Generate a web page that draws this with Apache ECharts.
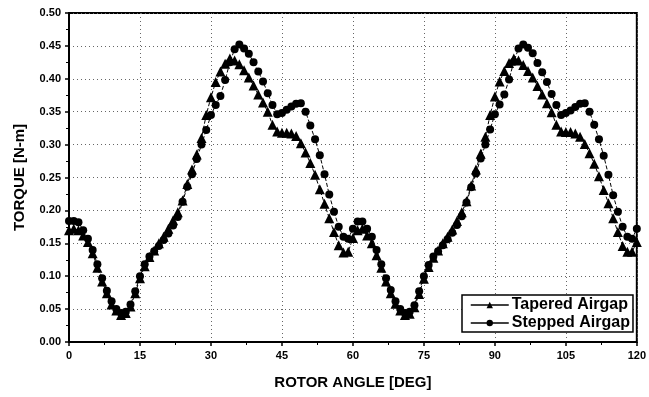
<!DOCTYPE html>
<html>
<head>
<meta charset="utf-8">
<script src="https://cdn.jsdelivr.net/npm/echarts@6/dist/echarts.min.js"></script>
<style>
html,body{margin:0;padding:0;background:#fff;}
#chart{width:649px;height:397px;}
</style>
</head>
<body>
<div id="chart"></div>
<script>
// rotor angle, 1 deg steps
var angles = [];
for (var a = 0; a <= 120; a++) angles.push(a);

// tapered airgap torque [N-m]
var tapered = [
  0.170, 0.172, 0.170, 0.162, 0.152, 0.135, 0.113, 0.092, 0.074, 0.057,
  0.048, 0.041, 0.044, 0.054, 0.074, 0.097, 0.115, 0.129, 0.139, 0.150,
  0.160, 0.172, 0.185, 0.197, 0.215, 0.240, 0.262, 0.285, 0.310, 0.345,
  0.372, 0.395, 0.411, 0.423, 0.431, 0.428, 0.422, 0.413, 0.402, 0.390,
  0.376, 0.364, 0.350, 0.330, 0.320, 0.318, 0.318, 0.317, 0.313, 0.302,
  0.288, 0.272, 0.254, 0.232, 0.210, 0.188, 0.167, 0.147, 0.136, 0.137,
  0.158, 0.170, 0.172, 0.162, 0.150, 0.132, 0.113, 0.092, 0.074, 0.058,
  0.048, 0.041, 0.043, 0.053, 0.073, 0.096, 0.114, 0.128, 0.139, 0.150,
  0.160, 0.171, 0.184, 0.197, 0.214, 0.238, 0.262, 0.286, 0.312, 0.345,
  0.373, 0.396, 0.412, 0.424, 0.431, 0.428, 0.421, 0.412, 0.402, 0.389,
  0.376, 0.363, 0.349, 0.330, 0.320, 0.319, 0.319, 0.317, 0.312, 0.301,
  0.287, 0.271, 0.252, 0.231, 0.211, 0.188, 0.167, 0.146, 0.137, 0.137,
  0.152
];

// stepped airgap torque [N-m]
var stepped = [
  0.184, 0.184, 0.182, 0.170, 0.157, 0.140, 0.118, 0.097, 0.078, 0.062,
  0.050, 0.044, 0.046, 0.057, 0.077, 0.100, 0.118, 0.130, 0.138, 0.146,
  0.155, 0.165, 0.177, 0.190, 0.213, 0.236, 0.255, 0.278, 0.300, 0.322,
  0.345, 0.360, 0.374, 0.398, 0.425, 0.445, 0.452, 0.446, 0.438, 0.425,
  0.411, 0.396, 0.378, 0.360, 0.346, 0.348, 0.353, 0.358, 0.362, 0.363,
  0.350, 0.329, 0.308, 0.284, 0.255, 0.224, 0.198, 0.175, 0.160, 0.157,
  0.172, 0.183, 0.183, 0.172, 0.160, 0.140, 0.118, 0.097, 0.079, 0.062,
  0.050, 0.044, 0.046, 0.056, 0.077, 0.100, 0.117, 0.130, 0.138, 0.147,
  0.156, 0.166, 0.178, 0.191, 0.212, 0.235, 0.256, 0.279, 0.300, 0.323,
  0.346, 0.361, 0.376, 0.399, 0.426, 0.446, 0.452, 0.447, 0.439, 0.424,
  0.410, 0.395, 0.377, 0.360, 0.345, 0.348, 0.352, 0.357, 0.362, 0.363,
  0.350, 0.330, 0.308, 0.283, 0.254, 0.223, 0.198, 0.175, 0.160, 0.157,
  0.172
];

var seriesNames = ['Tapered Airgap', 'Stepped Airgap'];

function pairs(ys){
  return ys.map(function(y, i){ return [angles[i], y]; });
}

var font = 'Liberation Sans, Arial, sans-serif';
var chart = echarts.init(document.getElementById('chart'));

chart.setOption({
  animation: false,
  backgroundColor: '#fff',
  grid: {
    left: 69, right: 9, top: 13, bottom: 55,
    show: true, borderColor: '#000', borderWidth: 2
  },
  legend: {
    left: 462, top: 295,
    orient: 'vertical',
    backgroundColor: '#fff',
    borderColor: '#000', borderWidth: 1.5, borderRadius: 0,
    padding: [2, 3, 1, 8],
    itemGap: 2, itemWidth: 38, itemHeight: 8,
    lineStyle: {type: 'solid', width: 1.5},
    textStyle: {fontFamily: font, fontWeight: 'bold', fontSize: 16, color: '#000', padding: [0, 0, 0, -2]},
    data: seriesNames
  },
  xAxis: {
    type: 'value', min: 0, max: 120, interval: 15,
    name: 'ROTOR ANGLE [DEG]', nameLocation: 'middle', nameGap: 33,
    nameTextStyle: {fontFamily: font, fontWeight: 'bold', fontSize: 15, color: '#000'},
    axisLine: {lineStyle: {color: '#000', width: 2}},
    axisTick: {inside: false, length: 4, lineStyle: {color: '#000', width: 1.5}},
    minorTick: {show: true, splitNumber: 2, length: 3, lineStyle: {color: '#000'}},
    axisLabel: {fontFamily: font, fontWeight: 'bold', fontSize: 11, color: '#000', margin: 8},
    splitLine: {show: true, lineStyle: {color: '#666', type: [1, 3], width: 1}}
  },
  yAxis: {
    type: 'value', min: 0, max: 0.5, interval: 0.05,
    name: 'TORQUE [N-m]', nameLocation: 'middle', nameGap: 42,
    nameTextStyle: {fontFamily: font, fontWeight: 'bold', fontSize: 15, color: '#000'},
    axisLine: {lineStyle: {color: '#000', width: 2}},
    axisTick: {inside: false, length: 4, lineStyle: {color: '#000', width: 1.5}},
    minorTick: {show: true, splitNumber: 2, length: 3, lineStyle: {color: '#000'}},
    axisLabel: {
      fontFamily: font, fontWeight: 'bold', fontSize: 11, color: '#000', margin: 8,
      formatter: function(v){ return v.toFixed(2); }
    },
    splitLine: {show: true, lineStyle: {color: '#666', type: [1, 3], width: 1}}
  },
  series: [
    {
      name: seriesNames[0], type: 'line', data: pairs(tapered),
      symbol: 'triangle', symbolSize: 10,
      itemStyle: {color: '#000'},
      lineStyle: {color: '#000', width: 1, type: [4, 2]}
    },
    {
      name: seriesNames[1], type: 'line', data: pairs(stepped),
      symbol: 'circle', symbolSize: 8,
      itemStyle: {color: '#000'},
      lineStyle: {color: '#000', width: 1, type: [4, 2]}
    }
  ]
});
</script>
</body>
</html>
